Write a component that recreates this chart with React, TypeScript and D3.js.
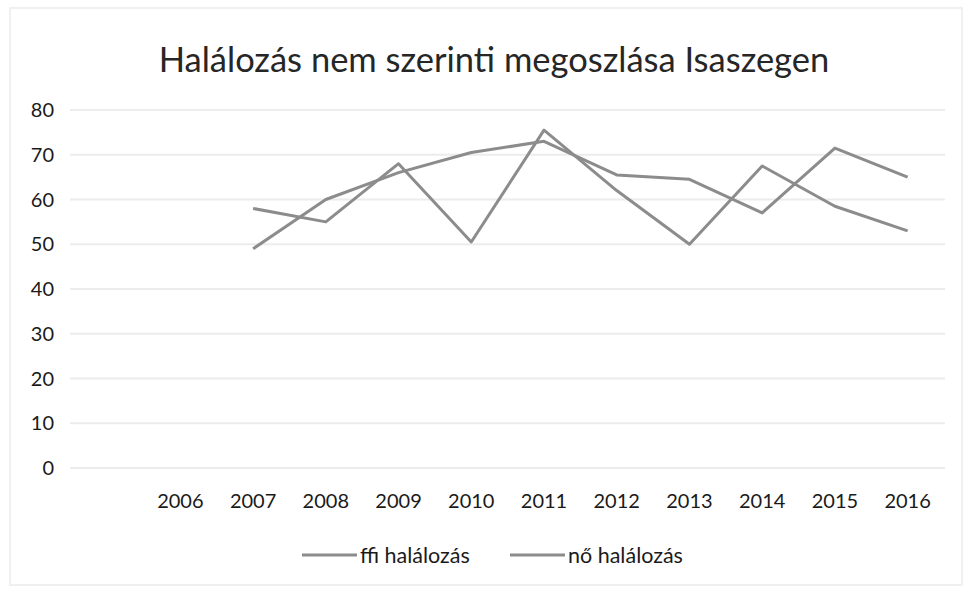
import React, { useEffect, useRef } from 'react';
import * as d3 from 'd3';

const years = ['2006', '2007', '2008', '2009', '2010', '2011', '2012', '2013', '2014', '2015', '2016'];
const ffiValues: (number | null)[] = [null, 49, 60, 66, 70.5, 73, 65.5, 64.5, 57, 71.5, 65];
const noValues: (number | null)[] = [null, 58, 55, 68, 50.5, 75.5, 62, 50, 67.5, 58.5, 53];
const yTicks = [0, 10, 20, 30, 40, 50, 60, 70, 80];
const seriesNames = ['ffi halálozás', 'nő halálozás'];

const FONT = 'Lato, "Open Sans", sans-serif';

const App = () => {
  const svgRef = useRef<SVGSVGElement>(null);

  useEffect(() => {
    const width = 967;
    const height = 589;

    const svg = d3.select(svgRef.current)
      .attr('width', width)
      .attr('height', height)
      .style('display', 'block')
      .style('background', '#fff');
    svg.selectAll('*').remove();

    // faint frame of the scanned chart
    svg.append('rect')
      .attr('x', 10).attr('y', 8)
      .attr('width', 952).attr('height', 577)
      .attr('fill', 'none')
      .attr('stroke', '#f0f0f0')
      .attr('stroke-width', 2);

    const x = d3.scaleBand<string>()
      .domain(years)
      .range([144, 944]);

    const y = d3.scaleLinear()
      .domain([0, 80])
      .range([468, 110]);

    // gridlines
    svg.append('g')
      .selectAll('line')
      .data(yTicks)
      .enter().append('line')
      .attr('x1', 70)
      .attr('x2', 945)
      .attr('y1', d => y(d))
      .attr('y2', d => y(d))
      .attr('stroke', '#ececec')
      .attr('stroke-width', 2);

    // y labels
    svg.append('g')
      .selectAll('text')
      .data(yTicks)
      .enter().append('text')
      .attr('x', 54)
      .attr('y', d => y(d) + 7)
      .attr('text-anchor', 'end')
      .attr('font-family', FONT)
      .attr('font-size', 20)
      .attr('fill', '#1a1a1a')
      .text(d => d);

    // x labels
    svg.append('g')
      .selectAll('text')
      .data(years)
      .enter().append('text')
      .attr('x', d => (x(d) as number) + x.bandwidth() / 2)
      .attr('y', 508)
      .attr('text-anchor', 'middle')
      .attr('font-family', FONT)
      .attr('font-size', 20)
      .attr('fill', '#1a1a1a')
      .text(d => d);

    const line = d3.line<number | null>()
      .defined(d => d !== null)
      .x((d, i) => (x(years[i]) as number) + x.bandwidth() / 2)
      .y(d => y(d as number));

    [ffiValues, noValues].forEach(values => {
      svg.append('path')
        .datum(values)
        .attr('fill', 'none')
        .attr('stroke', '#8c8c8c')
        .attr('stroke-width', 3)
        .attr('stroke-linejoin', 'round')
        .attr('d', line);
    });

    // title
    svg.append('text')
      .attr('x', 494)
      .attr('y', 72)
      .attr('text-anchor', 'middle')
      .attr('font-family', FONT)
      .attr('font-size', 34.5)
      .attr('fill', '#262626')
      .text('Halálozás nem szerinti megoszlása Isaszegen');

    // legend
    const legend = svg.append('g');
    const legendX = [302, 510];
    seriesNames.forEach((name, i) => {
      legend.append('line')
        .attr('x1', legendX[i])
        .attr('x2', legendX[i] + 55)
        .attr('y1', 555)
        .attr('y2', 555)
        .attr('stroke', '#8c8c8c')
        .attr('stroke-width', 3);
      legend.append('text')
        .attr('x', legendX[i] + 58)
        .attr('y', 563)
        .attr('font-family', FONT)
        .attr('font-size', 21.5)
        .attr('fill', '#1a1a1a')
        .text(name);
    });
  }, []);

  return (
    <svg ref={svgRef} style={{ position: 'absolute', left: 0, top: 0 }}></svg>
  );
};

export default App;
